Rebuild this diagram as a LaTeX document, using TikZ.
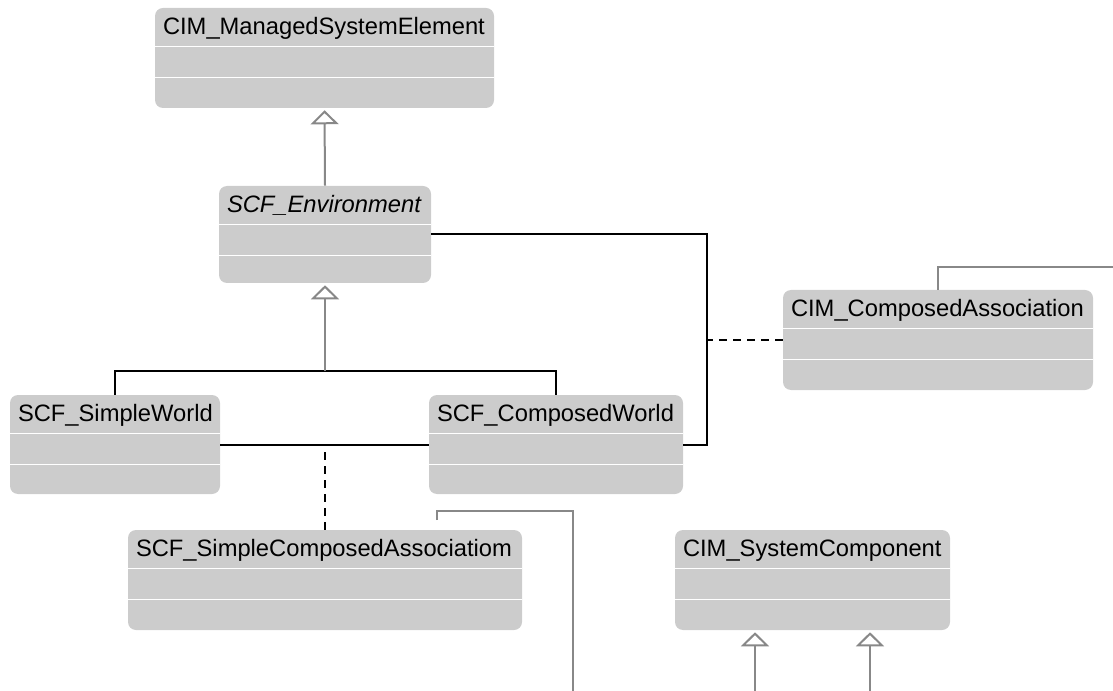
\documentclass[tikz,border=0pt]{standalone}
\usepackage{fontspec}
\setmainfont{Liberation Sans}
\usetikzlibrary{positioning, arrows.meta, calc, fit}
\definecolor{umlfill}{RGB}{204, 204, 204}
\definecolor{umlgray}{RGB}{136, 136, 136}
\tikzset{
  umlclass/.style={
    fill=umlfill,
    draw=none,
    rounded corners=6pt,
    inner sep=0pt
  },
  umltitle/.style={
    anchor=base west,
    inner sep=0pt,
    font=\fontsize{17.8}{20}\selectfont
  },
  compsep/.style={
    draw=white,
    line width=1.1pt
  },
  assoc/.style={
    draw=black,
    line width=1.5pt
  },
  assocclass/.style={
    assoc,
    dash pattern=on 6pt off 4.5pt
  },
  generalization/.style={
    draw=umlgray,
    line width=1.5pt,
    shorten >=1.5pt,
    -{Triangle[open, width=21pt, length=10.5pt]}
  },
  linkline/.style={
    draw=umlgray,
    line width=1.5pt
  }
}

\begin{document}
\begin{tikzpicture}[x=0.75pt, y=-0.75pt]
  \useasboundingbox (0,0) rectangle (1113,691);

  % classes
  \node[umlclass, fit={(155,8) (494,108)}] (mse) {};
  \node[umlclass, fit={(219,186) (431,283)}] (env) {};
  \node[umlclass, fit={(10,395) (220,494)}] (sw) {};
  \node[umlclass, fit={(429,395) (683,494)}] (cw) {};
  \node[umlclass, fit={(783,290) (1093,390)}] (ca) {};
  \node[umlclass, fit={(128,530) (522,630)}] (sca) {};
  \node[umlclass, fit={(675,530) (950,630)}] (sc) {};

  \foreach \c in {mse,env,sw,cw,ca,sca,sc}
    \draw[compsep] ($(\c.north west)+(0,39)$) -- ($(\c.north east)+(0,39)$)
                   ($(\c.north west)+(0,70)$) -- ($(\c.north east)+(0,70)$);

  \node[umltitle] (mse-name) at ($(mse.north west)+(8,27)$) {CIM\_ManagedSystemElement};
  \node[umltitle, font=\fontsize{17.8}{20}\selectfont\itshape] (env-name) at ($(env.north west)+(8,27)$) {SCF\_Environment};
  \node[umltitle] (sw-name) at ($(sw.north west)+(8,27)$) {SCF\_SimpleWorld};
  \node[umltitle] (cw-name) at ($(cw.north west)+(8,27)$) {SCF\_ComposedWorld};
  \node[umltitle] (ca-name) at ($(ca.north west)+(8,27)$) {CIM\_ComposedAssociation};
  \node[umltitle] (sca-name) at ($(sca.north west)+(8,27)$) {SCF\_SimpleComposedAssociatiom};
  \node[umltitle] (sc-name) at ($(sc.north west)+(8,27)$) {CIM\_SystemComponent};

  % inheritance
  \draw[generalization] (env.north) -- (mse.south);
  \coordinate (fork) at (env.south |- 0,371);
  \draw[assoc] (sw.north) |- (fork) -| (cw.north);
  \draw[generalization] (fork) -- (env.south);

  % associations
  \coordinate (bend) at (707,0);
  \draw[assoc] (env.east) -| (bend |- cw.east) -- (cw.east);
  \draw[assocclass] (ca.west) -- (ca.west -| bend);
  \draw[assoc] (sw.east) -- (cw.west);
  \draw[assocclass] (sca.north) -- (sca.north |- sw.east);

  % links leaving the view
  \coordinate (sca-link) at (437,520);
  \coordinate (sca-out) at (573,691);
  \draw[linkline] (sca-link) |- (sca-out |- 0,511) -- (sca-out);
  \coordinate (ca-out) at (1113,267);
  \draw[linkline] (ca.north -| 938,0) |- (ca-out);
  \coordinate (sc-in1) at (755,691);
  \coordinate (sc-in2) at (870,691);
  \draw[generalization] (sc-in1) -- (sc.south -| sc-in1);
  \draw[generalization] (sc-in2) -- (sc.south -| sc-in2);
\end{tikzpicture}
\end{document}
